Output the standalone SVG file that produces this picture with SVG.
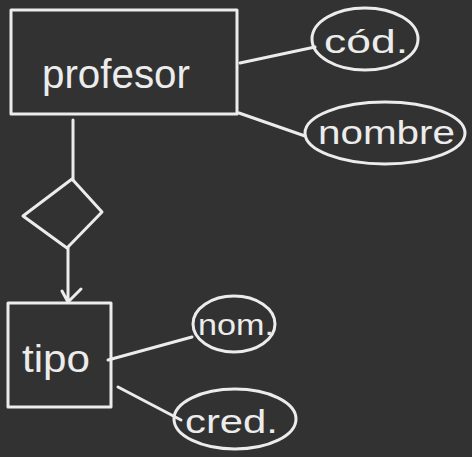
<svg xmlns="http://www.w3.org/2000/svg" width="472" height="457" viewBox="0 0 472 457">
<style>
.s{fill:none;stroke:#ececec;stroke-width:3;stroke-linecap:round;stroke-linejoin:round}
.t{fill:#ececec;font-family:"Liberation Sans","DejaVu Sans",sans-serif}
</style>
<rect width="472" height="457" fill="#323232"/>
<g id="connectors">
<path class="s" d="M240 63 L315 47"/>
<path class="s" d="M239 113 L305 136"/>
<path class="s" d="M73 120 L73 180"/>
<path class="s" d="M68 248 L68 302 M62 291 L68 302 L81 289"/>
<path class="s" d="M108 360 L192 337"/>
<path class="s" d="M118 387 L181 420"/>
</g>
<g id="profesor">
<rect class="s" x="11" y="10" width="226" height="104"/>
<text class="t" x="42" y="88" font-size="40" textLength="148" lengthAdjust="spacingAndGlyphs">profesor</text>
</g>
<g id="cod">
<ellipse class="s" cx="365" cy="39" rx="53" ry="31"/>
<text class="t" x="324" y="53" font-size="34" textLength="84" lengthAdjust="spacingAndGlyphs">cód.</text>
</g>
<g id="nombre">
<ellipse class="s" cx="385" cy="133" rx="80" ry="31"/>
<text class="t" x="318" y="144" font-size="34" textLength="137" lengthAdjust="spacingAndGlyphs">nombre</text>
</g>
<g id="relacion">
<path class="s" d="M72 179 L102 212 L67 248 L23 216 Z"/>
</g>
<g id="tipo">
<rect class="s" x="8" y="303" width="103" height="104"/>
<text class="t" x="22" y="372" font-size="38" textLength="68" lengthAdjust="spacingAndGlyphs">tipo</text>
</g>
<g id="nom">
<ellipse class="s" cx="234" cy="324" rx="41" ry="28"/>
<text class="t" x="198" y="335" font-size="30" textLength="76" lengthAdjust="spacingAndGlyphs">nom.</text>
</g>
<g id="cred">
<ellipse class="s" cx="235" cy="419" rx="61" ry="30"/>
<text class="t" x="185" y="433" font-size="34" textLength="93" lengthAdjust="spacingAndGlyphs">cred.</text>
</g>
</svg>
